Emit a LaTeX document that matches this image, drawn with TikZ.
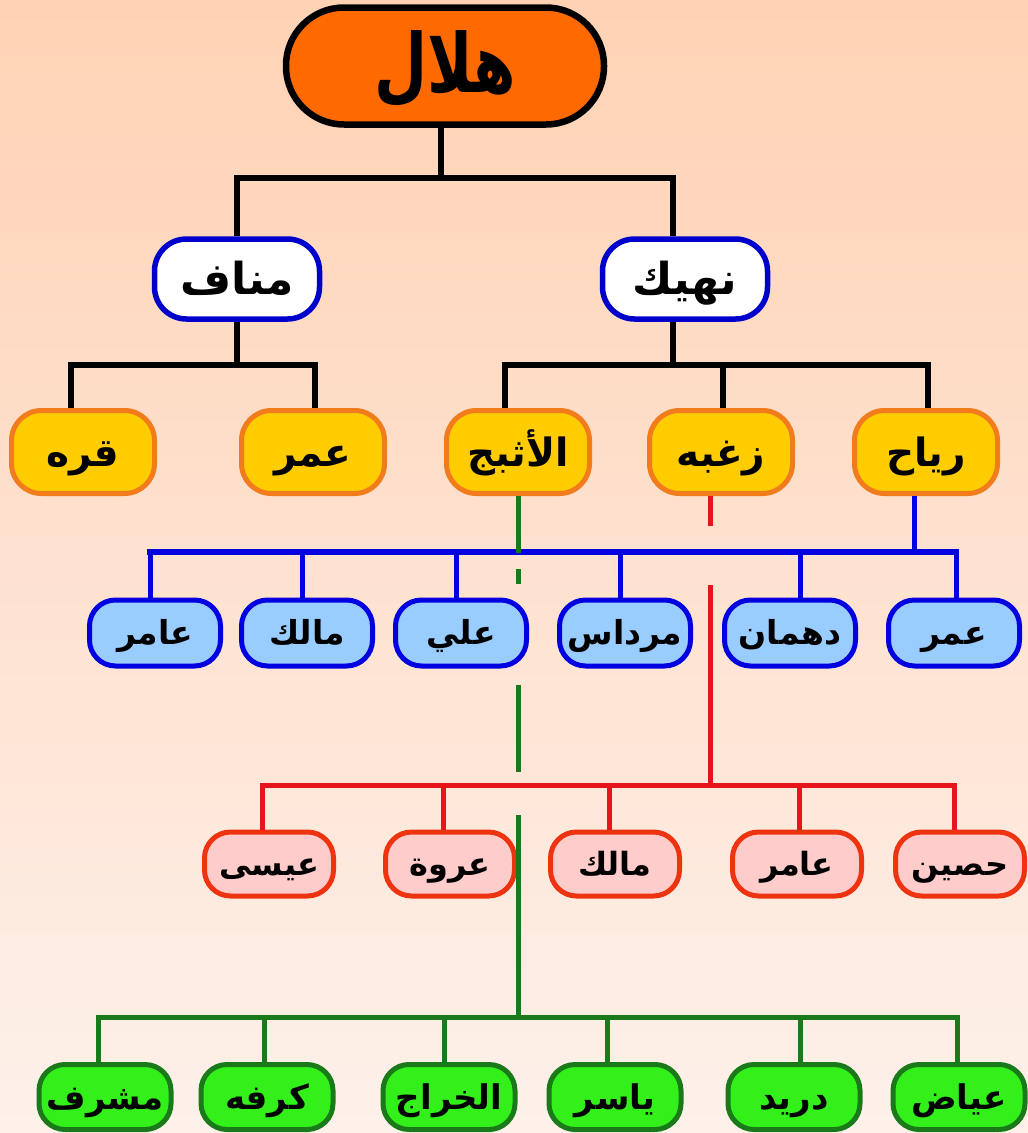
\documentclass[tikz,border=0pt]{standalone}
\usepackage{fontspec}
\TeXXeTstate=1
\newfontfamily\arabicfont[Script=Arabic]{DejaVu Sans}
\newcommand\artxt[2]{{\arabicfont\bfseries\fontsize{#1}{#1}\selectfont\beginR #2\endR}}
\definecolor{bgtop}{HTML}{FFD2B4}
\definecolor{bgbot}{HTML}{FDF1EA}
\definecolor{rootfill}{HTML}{FF6A00}
\definecolor{lvtwoline}{HTML}{0000CC}
\definecolor{yelfill}{HTML}{FFCC00}
\definecolor{yelline}{HTML}{F27B1B}
\definecolor{bluefill}{HTML}{99CCFF}
\definecolor{blueline}{HTML}{0000E0}
\definecolor{pinkfill}{HTML}{FFCCCC}
\definecolor{pinkline}{HTML}{EE3311}
\definecolor{grnfill}{HTML}{33F01A}
\definecolor{grnline}{HTML}{1A7A1A}
\definecolor{redcon}{HTML}{E8141C}
\begin{document}
\begin{tikzpicture}[x=1pt,y=-1pt,
  box/.style={draw, inner sep=0pt, rounded corners=28pt, text=black},
  rootbox/.style={box, fill=rootfill, draw=black, line width=6.5pt, minimum width=318pt, minimum height=117pt, rounded corners=58pt, text height=62pt, text depth=10pt},
  lvtwo/.style={box, fill=white, draw=lvtwoline, line width=5.5pt, minimum width=165pt, minimum height=80pt, rounded corners=32pt, text height=40pt, text depth=10pt},
  lvthree/.style={box, fill=yelfill, draw=yelline, line width=5pt, minimum width=143pt, minimum height=83pt, rounded corners=30pt, text height=38pt, text depth=10pt},
  bluebox/.style={box, fill=bluefill, draw=blueline, line width=5pt, minimum width=131pt, minimum height=66pt, rounded corners=26pt, text height=30pt, text depth=8pt},
  pinkbox/.style={box, fill=pinkfill, draw=pinkline, line width=5pt, minimum width=129pt, minimum height=64pt, rounded corners=26pt, text height=30pt, text depth=8pt},
  grnbox/.style={box, fill=grnfill, draw=grnline, line width=5pt, minimum width=132pt, minimum height=65pt, rounded corners=26pt, text height=32pt, text depth=8pt},
  blk/.style={draw=black, line width=5.5pt},
  bcon/.style={draw=blueline, line width=5pt},
  bbus/.style={draw=blueline, line width=6.5pt},
  rcon/.style={draw=redcon, line width=5pt},
  gcon/.style={draw=grnline, line width=5pt}
]
\useasboundingbox (0,0) rectangle (1028,1133);
\shade[top color=bgtop, bottom color=bgbot] (0,0) rectangle (1028,1133);
% bus levels
\coordinate (b1) at (0,178);
\coordinate (b2) at (0,365);
\coordinate (b3) at (0,552);
\coordinate (b4) at (0,785);
\coordinate (b5) at (0,1017);
% nodes
\node[rootbox] (root) at (445,66) {\scalebox{0.9}[1.2]{\artxt{68}{هلال}}};
\node[lvtwo] (manaf) at (237,279) {\artxt{44}{مناف}};
\node[lvtwo] (nahik) at (685,279) {\artxt{44}{نهيك}};
\node[lvthree] (qurra) at (83,452) {\artxt{39}{قره}};
\node[lvthree] (umar) at (313,452) {\artxt{39}{عمر}};
\node[lvthree] (athbaj) at (518,452) {\artxt{39}{الأثبج}};
\node[lvthree] (zughba) at (721,452) {\artxt{39}{زغبه}};
\node[lvthree] (riyah) at (926,452) {\artxt{39}{رياح}};
\node[bluebox] (amer) at (155,633) {\artxt{33}{عامر}};
\node[bluebox] (malik) at (307,633) {\artxt{33}{مالك}};
\node[bluebox] (ali) at (461,633) {\artxt{33}{علي}};
\node[bluebox] (mirdas) at (625,633) {\artxt{33}{مرداس}};
\node[bluebox] (dahman) at (790,633) {\artxt{33}{دهمان}};
\node[bluebox] (umartwo) at (954,633) {\artxt{33}{عمر}};
\node[pinkbox] (isa) at (269,864) {\artxt{32}{عيسى}};
\node[pinkbox] (urwa) at (450,864) {\artxt{32}{عروة}};
\node[pinkbox] (maliktwo) at (615,864) {\artxt{32}{مالك}};
\node[pinkbox] (amertwo) at (797,864) {\artxt{32}{عامر}};
\node[pinkbox] (husayn) at (960,864) {\artxt{32}{حصين}};
\node[grnbox] (mushrif) at (105,1097) {\artxt{34}{مشرف}};
\node[grnbox] (kurfa) at (267,1097) {\artxt{34}{كرفه}};
\node[grnbox] (kharraj) at (449,1097) {\artxt{34}{الخراج}};
\node[grnbox] (yasir) at (615,1097) {\artxt{34}{ياسر}};
\node[grnbox] (durayd) at (794,1097) {\artxt{34}{دريد}};
\node[grnbox] (ayyad) at (959,1097) {\artxt{34}{عياض}};
% black connectors
\draw[blk] ([xshift=-4pt]root.south) -- ([xshift=-4pt]root.south |- b1);
\draw[blk,line cap=rect] (manaf.north |- b1) -- ([xshift=-12pt]nahik.north |- b1);
\draw[blk] (manaf.north |- b1) -- (manaf.north);
\draw[blk] ([xshift=-12pt]nahik.north |- b1) -- ([xshift=-12pt]nahik.north);
\draw[blk] (manaf.south) -- (manaf.south |- b2);
\draw[blk,line cap=rect] ([xshift=-12pt]qurra.north |- b2) -- ([xshift=2pt]umar.north |- b2);
\draw[blk] ([xshift=-12pt]qurra.north |- b2) -- ([xshift=-12pt]qurra.north);
\draw[blk] ([xshift=2pt]umar.north |- b2) -- ([xshift=2pt]umar.north);
\draw[blk] ([xshift=-12pt]nahik.south) -- ([xshift=-12pt]nahik.south |- b2);
\draw[blk,line cap=rect] ([xshift=-13pt]athbaj.north |- b2) -- ([xshift=2pt]riyah.north |- b2);
\draw[blk] ([xshift=-13pt]athbaj.north |- b2) -- ([xshift=-13pt]athbaj.north);
\draw[blk] ([xshift=2pt]zughba.north |- b2) -- ([xshift=2pt]zughba.north);
\draw[blk] ([xshift=2pt]riyah.north |- b2) -- ([xshift=2pt]riyah.north);
% blue connectors
\draw[bcon] ([xshift=-12pt]riyah.south) -- ([xshift=-12pt]riyah.south |- b3);
\draw[bbus,line cap=rect] ([xshift=-5pt]amer.north |- b3) -- ([xshift=2pt]umartwo.north |- b3);
\draw[bcon] ([xshift=-5pt]amer.north |- b3) -- ([xshift=-5pt]amer.north);
\draw[bcon] ([xshift=-5pt]malik.north |- b3) -- ([xshift=-5pt]malik.north);
\draw[bcon] ([xshift=-5pt]ali.north |- b3) -- ([xshift=-5pt]ali.north);
\draw[bcon] ([xshift=-5pt]mirdas.north |- b3) -- ([xshift=-5pt]mirdas.north);
\draw[bcon] ([xshift=10pt]dahman.north |- b3) -- ([xshift=10pt]dahman.north);
\draw[bcon] ([xshift=2pt]umartwo.north |- b3) -- ([xshift=2pt]umartwo.north);
% red connectors
\draw[rcon] ([xshift=-11pt]zughba.south) -- ++(0,30);
\draw[rcon] ([xshift=-11pt]zughba.south |- 0,585) -- ([xshift=-11pt]zughba.south |- b4);
\draw[rcon,line cap=rect] ([xshift=-7pt]isa.north |- b4) -- ([xshift=-6pt]husayn.north |- b4);
\draw[rcon] ([xshift=-7pt]isa.north |- b4) -- ([xshift=-7pt]isa.north);
\draw[rcon] ([xshift=-7pt]urwa.north |- b4) -- ([xshift=-7pt]urwa.north);
\draw[rcon] ([xshift=-6pt]maliktwo.north |- b4) -- ([xshift=-6pt]maliktwo.north);
\draw[rcon] ([xshift=2pt]amertwo.north |- b4) -- ([xshift=2pt]amertwo.north);
\draw[rcon] ([xshift=-6pt]husayn.north |- b4) -- ([xshift=-6pt]husayn.north);
% green connectors
\draw[gcon] (athbaj.south) -- ++(0,57);
\draw[gcon] (athbaj.south |- 0,569) -- (athbaj.south |- 0,584);
\draw[gcon] (athbaj.south |- 0,685) -- (athbaj.south |- 0,772);
\draw[gcon] (athbaj.south |- 0,815) -- (athbaj.south |- b5);
\draw[gcon,line cap=rect] ([xshift=-7pt]mushrif.north |- b5) -- ([xshift=-2pt]ayyad.north |- b5);
\draw[gcon] ([xshift=-7pt]mushrif.north |- b5) -- ([xshift=-7pt]mushrif.north);
\draw[gcon] ([xshift=-3pt]kurfa.north |- b5) -- ([xshift=-3pt]kurfa.north);
\draw[gcon] ([xshift=-5pt]kharraj.north |- b5) -- ([xshift=-5pt]kharraj.north);
\draw[gcon] ([xshift=-8pt]yasir.north |- b5) -- ([xshift=-8pt]yasir.north);
\draw[gcon] ([xshift=6pt]durayd.north |- b5) -- ([xshift=6pt]durayd.north);
\draw[gcon] ([xshift=-2pt]ayyad.north |- b5) -- ([xshift=-2pt]ayyad.north);
\end{tikzpicture}
\end{document}
